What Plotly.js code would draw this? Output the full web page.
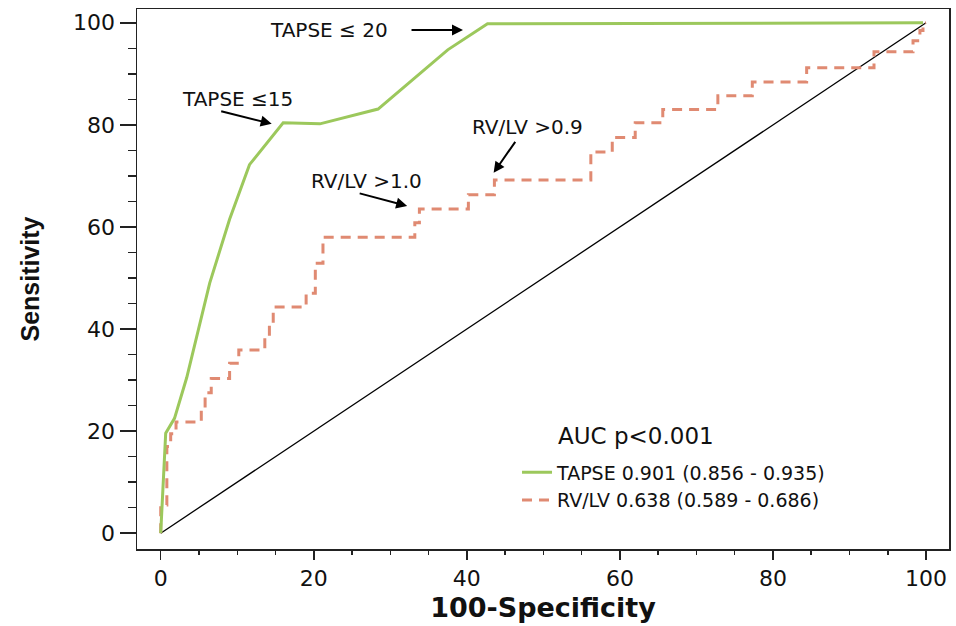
<!DOCTYPE html>
<html>
<head>
<meta charset="utf-8">
<script src="https://cdn.plot.ly/plotly-3.0.1.min.js"></script>
<style>html,body{margin:0;padding:0;background:#fff}#chart{width:956px;height:626px}</style>
</head>
<body>
<div id="chart"></div>
<script>
// ---- data ----
const tapseX = [0, 0.65, 1.8, 3.4, 6.4, 9.0, 11.6, 16.0, 20.8, 28.4, 37.5, 42.7, 99.6];
const tapseY = [0, 19.6, 22.5, 30.5, 49.0, 61.5, 72.2, 80.4, 80.2, 83.1, 94.7, 99.8, 100];

// step points (x of the vertical step, level reached) drawn with 'hv' shape
const rvlvX = [0, 0, 0.8, 1.3, 2.0, 5.3, 5.8, 6.6, 9.0, 10.2, 13.6, 14.2, 14.7, 19.0, 20.2, 21.2,
               33.2, 33.8, 40.2, 43.6, 56.2, 59.0, 62.0, 65.6, 72.8, 77.3, 84.4, 93.2, 98.3, 99.2, 99.6, 100];
const rvlvY = [0, 5.5, 17.0, 19.5, 21.8, 24.0, 27.5, 30.3, 33.3, 35.9, 38.5, 41.0, 44.3, 47.0, 52.9, 58.0,
               60.8, 63.5, 66.3, 69.2, 74.7, 77.5, 80.4, 83.0, 85.7, 88.4, 91.2, 94.3, 96.5, 98.5, 100, 100];

const refX = [0, 100];
const refY = [0, 100];

const seriesNames = ['TAPSE 0.901 (0.856 - 0.935)', 'RV/LV 0.638 (0.589 - 0.686)'];
const tickVals = [0, 20, 40, 60, 80, 100];
const tickText = ['0', '20', '40', '60', '80', '100'];

// cut-off labels: text, text position, arrow head, arrow tail offset (px)
const cutLabels = ['TAPSE ≤ 20', 'TAPSE ≤15', 'RV/LV >1.0', 'RV/LV >0.9'];
const cutTextX = [21.96, 10.06, 26.9, 47.97];
const cutTextY = [98.6, 85.1, 69.0, 79.6];
const arrowHeadX = [39.5, 14.5, 32.2, 43.5];
const arrowHeadY = [98.6, 80.2, 64.1, 70.6];
const arrowAX = [-53, -52, -49, 23];
const arrowAY = [0, -13, -13, -33];

const green = '#9cc85c';
const salmon = '#e08a72';

const traces = [
  {x: refX, y: refY, mode: 'lines', line: {color: '#000', width: 1.3}, showlegend: false, hoverinfo: 'skip'},
  {x: rvlvX, y: rvlvY, mode: 'lines', name: seriesNames[1],
   line: {color: salmon, width: 3, dash: '10px,7px', shape: 'hv'}},
  {x: tapseX, y: tapseY, mode: 'lines', name: seriesNames[0],
   line: {color: green, width: 3}}
];

const annotations = [];
for (let i = 0; i < cutLabels.length; i++) {
  annotations.push({x: cutTextX[i], y: cutTextY[i], xref: 'x', yref: 'y', text: cutLabels[i],
    showarrow: false, xanchor: 'center', yanchor: 'middle',
    font: {family: 'DejaVu Sans', size: 20, color: '#111'}});
  annotations.push({x: arrowHeadX[i], y: arrowHeadY[i], xref: 'x', yref: 'y', text: ' ',
    showarrow: true, ax: arrowAX[i], ay: arrowAY[i], arrowhead: 2, arrowsize: 1.1, arrowwidth: 2,
    arrowcolor: '#000', standoff: 0, startstandoff: 0, font: {size: 1}});
}
annotations.push({x: 0.516, y: 0.209, xref: 'paper', yref: 'paper', text: 'AUC p<0.001',
  showarrow: false, xanchor: 'left', yanchor: 'middle',
  font: {family: 'DejaVu Sans', size: 23, color: '#111'}});

const axisCommon = {
  showgrid: false, zeroline: false, showline: true, mirror: true, linecolor: '#222', linewidth: 1.5,
  ticks: 'outside', tickcolor: '#222', tickwidth: 1.5,
  tickvals: tickVals, ticktext: tickText,
  tickfont: {family: 'DejaVu Sans', size: 22, color: '#111'},
  fixedrange: true
};

const layout = {
  width: 956, height: 626,
  margin: {l: 137, r: 7, t: 9, b: 77},
  paper_bgcolor: '#fff', plot_bgcolor: '#fff',
  xaxis: Object.assign({}, axisCommon, {
    range: [-3.1, 103], ticklen: 9,
    minor: {dtick: 5, ticks: 'outside', ticklen: 4, tickcolor: '#222', tickwidth: 1.5},
    title: {text: '100-Specificity', standoff: 8, font: {family: 'DejaVu Sans', weight: 'bold', size: 27, color: '#111'}}
  }),
  yaxis: Object.assign({}, axisCommon, {
    range: [-3.1, 102.7], ticklen: 16,
    minor: {dtick: 5, ticks: 'outside', ticklen: 8, tickcolor: '#222', tickwidth: 1.5},
    title: {text: 'Sensitivity', standoff: 26, font: {family: 'Liberation Sans', weight: 'bold', size: 25, color: '#111'}}
  }),
  showlegend: true,
  legend: {x: 0.468, y: 0.177, xanchor: 'left', yanchor: 'top', bgcolor: 'rgba(0,0,0,0)',
    traceorder: 'reversed', font: {family: 'DejaVu Sans', size: 19, color: '#111'}, tracegroupgap: 0},
  annotations: annotations
};

Plotly.newPlot('chart', traces, layout, {displayModeBar: false, staticPlot: true});
</script>
</body>
</html>
